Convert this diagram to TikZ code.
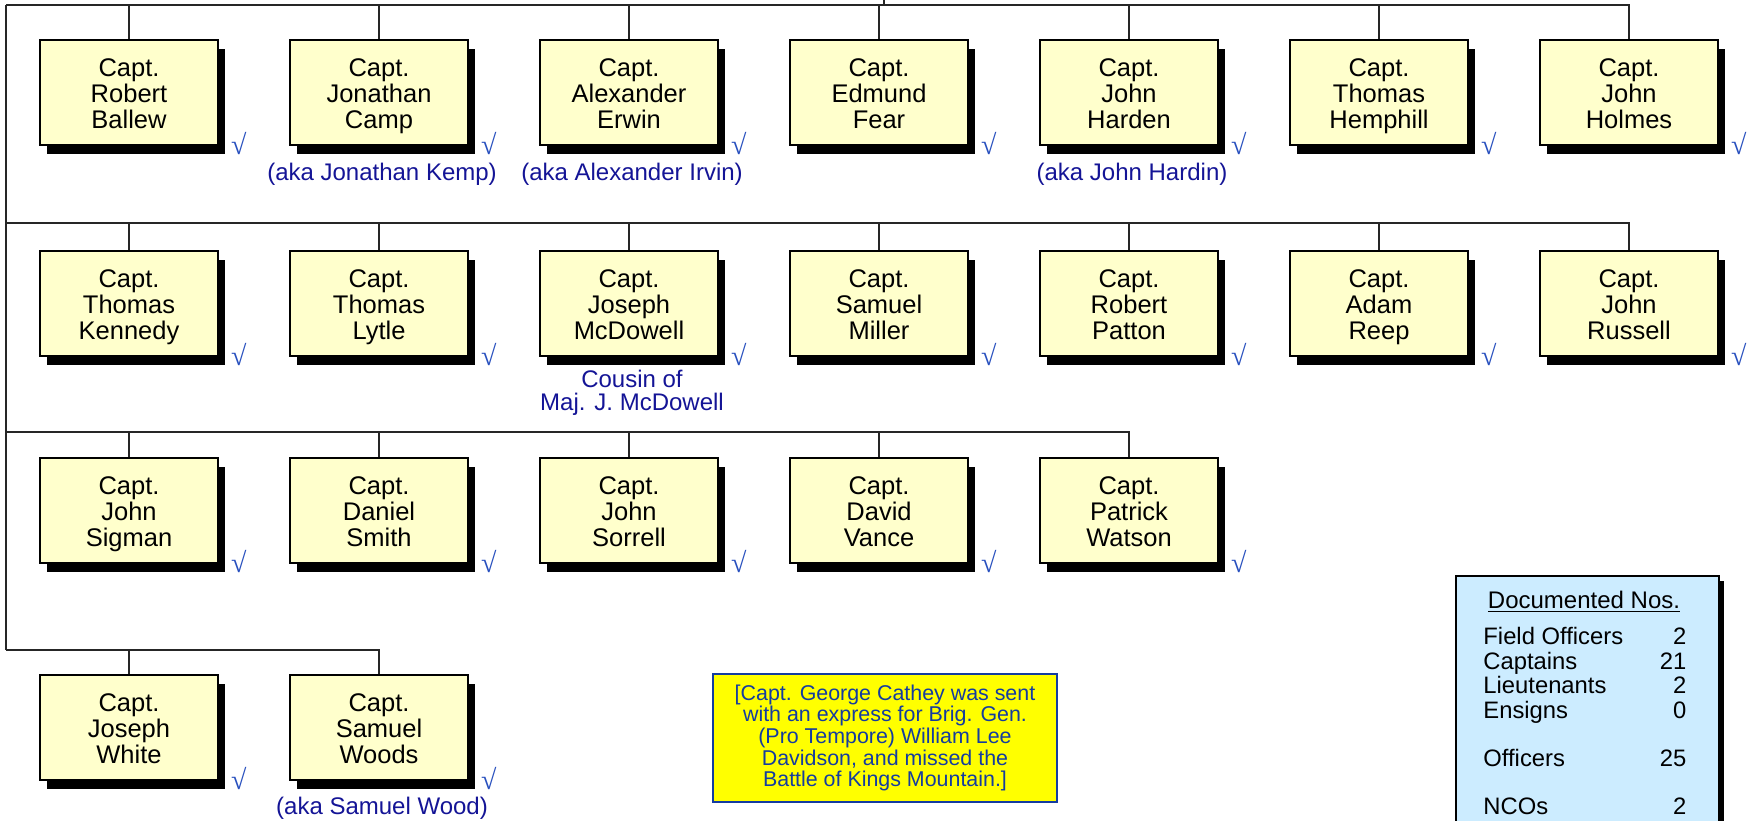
\documentclass[tikz,border=0pt]{standalone}
\usepackage{fontspec}
\setmainfont{Liberation Sans}
\newfontfamily\ckfont{Liberation Serif}
\usetikzlibrary{shadows}
\definecolor{captfill}{RGB}{255,255,204}
\definecolor{checkblue}{RGB}{40,80,190}
\definecolor{akablue}{RGB}{20,20,150}
\definecolor{noteblue}{RGB}{20,60,160}
\definecolor{notefill}{RGB}{255,255,0}
\definecolor{docfill}{RGB}{204,236,255}
% captain's name in a box, three lines on fixed baselines
\newcommand\captname[2]{\rule{0pt}{12.5pt}Capt.\\#1\\#2\rule[-3pt]{0pt}{0pt}}
\tikzset{
  capt/.style={draw=black, line width=0.9pt, fill=captfill, minimum width=89pt, minimum height=52.5pt,
    inner sep=0pt, align=center, font=\fontsize{12.75}{13}\selectfont,
    drop shadow={shadow xshift=3.5pt, shadow yshift=-4.5pt, fill=black, opacity=1}},
  chkmark/.style={text=checkblue, inner sep=0pt, font=\ckfont\fontsize{14}{14}\selectfont},
  aka/.style={text=akablue, inner sep=0pt, align=center, font=\fontsize{12}{11.5}\selectfont},
  conn/.style={draw=black!85, line width=0.8pt},
}
\begin{document}
\begin{tikzpicture}[x=0.5pt, y=-0.5pt]
			\path[use as bounding box, clip] (0,0) rectangle (1754,820);
			% first row
			\node (ballew) [capt] at (129,92.5) {\captname{Robert}{Ballew}};
			\node (camp) [capt] at (379,92.5) {\captname{Jonathan}{Camp}};
			\node (erwin) [capt] at (629,92.5) {\captname{Alexander}{Erwin}};
			\node (fear) [capt] at (879,92.5) {\captname{Edmund}{Fear}};
			\node (harden) [capt] at (1129,92.5) {\captname{John}{Harden}};
			\node (hemphill) [capt] at (1379,92.5) {\captname{Thomas}{Hemphill}};
			\node (holmes) [capt] at (1629,92.5) {\captname{John}{Holmes}};
			% second row
			\node (kennedy) [capt] at (129,303.5) {\captname{Thomas}{Kennedy}};
			\node (lytle) [capt] at (379,303.5) {\captname{Thomas}{Lytle}};
			\node (mcdowell) [capt] at (629,303.5) {\captname{Joseph}{McDowell}};
			\node (miller) [capt] at (879,303.5) {\captname{Samuel}{Miller}};
			\node (patton) [capt] at (1129,303.5) {\captname{Robert}{Patton}};
			\node (reep) [capt] at (1379,303.5) {\captname{Adam}{Reep}};
			\node (russell) [capt] at (1629,303.5) {\captname{John}{Russell}};
			% third row
			\node (sigman) [capt] at (129,510.5) {\captname{John}{Sigman}};
			\node (smith) [capt] at (379,510.5) {\captname{Daniel}{Smith}};
			\node (sorrell) [capt] at (629,510.5) {\captname{John}{Sorrell}};
			\node (vance) [capt] at (879,510.5) {\captname{David}{Vance}};
			\node (watson) [capt] at (1129,510.5) {\captname{Patrick}{Watson}};
			% fourth row
			\node (white) [capt] at (129,727.5) {\captname{Joseph}{White}};
			\node (woods) [capt] at (379,727.5) {\captname{Samuel}{Woods}};

			% check marks
			\node (ballewok) [chkmark] at ([shift={(20,-2.5)}]ballew.south east) {√};
			\node (campok) [chkmark] at ([shift={(20,-2.5)}]camp.south east) {√};
			\node (erwinok) [chkmark] at ([shift={(20,-2.5)}]erwin.south east) {√};
			\node (fearok) [chkmark] at ([shift={(20,-2.5)}]fear.south east) {√};
			\node (hardenok) [chkmark] at ([shift={(20,-2.5)}]harden.south east) {√};
			\node (hemphillok) [chkmark] at ([shift={(20,-2.5)}]hemphill.south east) {√};
			\node (holmesok) [chkmark] at ([shift={(20,-2.5)}]holmes.south east) {√};
			\node (kennedyok) [chkmark] at ([shift={(20,-2.5)}]kennedy.south east) {√};
			\node (lytleok) [chkmark] at ([shift={(20,-2.5)}]lytle.south east) {√};
			\node (mcdowellok) [chkmark] at ([shift={(20,-2.5)}]mcdowell.south east) {√};
			\node (millerok) [chkmark] at ([shift={(20,-2.5)}]miller.south east) {√};
			\node (pattonok) [chkmark] at ([shift={(20,-2.5)}]patton.south east) {√};
			\node (reepok) [chkmark] at ([shift={(20,-2.5)}]reep.south east) {√};
			\node (russellok) [chkmark] at ([shift={(20,-2.5)}]russell.south east) {√};
			\node (sigmanok) [chkmark] at ([shift={(20,-2.5)}]sigman.south east) {√};
			\node (smithok) [chkmark] at ([shift={(20,-2.5)}]smith.south east) {√};
			\node (sorrellok) [chkmark] at ([shift={(20,-2.5)}]sorrell.south east) {√};
			\node (vanceok) [chkmark] at ([shift={(20,-2.5)}]vance.south east) {√};
			\node (watsonok) [chkmark] at ([shift={(20,-2.5)}]watson.south east) {√};
			\node (whiteok) [chkmark] at ([shift={(20,-2.5)}]white.south east) {√};
			\node (woodsok) [chkmark] at ([shift={(20,-2.5)}]woods.south east) {√};

			% other spellings
			\node (campaka) [aka] at ([shift={(3,28)}]camp.south) {(aka Jonathan Kemp)};
			\node (erwinaka) [aka] at ([shift={(3,28)}]erwin.south) {(aka Alexander Irvin)};
			\node (hardenaka) [aka] at ([shift={(3,28)}]harden.south) {(aka John Hardin)};
			\node (mcdowellaka) [aka] at ([shift={(3,35.5)}]mcdowell.south) {Cousin of\\Maj. J. McDowell};
			\node (woodsaka) [aka] at ([shift={(3,27)}]woods.south) {(aka Samuel Wood)};

			% connectors
			\coordinate (root) at (884,0);
			\coordinate (row1) at (6,5);
			\coordinate (row2) at (6,223);
			\coordinate (row3) at (6,432);
			\coordinate (row4) at (6,650);
			\draw [conn] (root) -- (root |- row1);
			\draw [conn] (row1) -- (row4);
			\draw [conn] (row1) -| (holmes.north);
			\draw [conn] (row2) -| (russell.north);
			\draw [conn] (row3) -| (watson.north);
			\draw [conn] (row4) -| (woods.north);
			\draw [conn] (ballew.north) -- (ballew.north |- row1) (camp.north) -- (camp.north |- row1)
				(erwin.north) -- (erwin.north |- row1) (fear.north) -- (fear.north |- row1)
				(harden.north) -- (harden.north |- row1) (hemphill.north) -- (hemphill.north |- row1);
			\draw [conn] (kennedy.north) -- (kennedy.north |- row2) (lytle.north) -- (lytle.north |- row2)
				(mcdowell.north) -- (mcdowell.north |- row2) (miller.north) -- (miller.north |- row2)
				(patton.north) -- (patton.north |- row2) (reep.north) -- (reep.north |- row2);
			\draw [conn] (sigman.north) -- (sigman.north |- row3) (smith.north) -- (smith.north |- row3)
				(sorrell.north) -- (sorrell.north |- row3) (vance.north) -- (vance.north |- row3);
			\draw [conn] (white.north) -- (white.north |- row4);

			% note on Cathey
			\node (cathey) [draw=noteblue, line width=1pt, fill=notefill, text=noteblue, minimum width=172pt,
				minimum height=64pt, inner sep=0pt, align=center, font=\fontsize{10.7}{10.85}\selectfont]
				at (885,738) {[Capt. George Cathey was sent\\with an express for Brig. Gen.\\(Pro Tempore) William Lee\\Davidson, and missed the\\Battle of Kings Mountain.]};

			% documented numbers
			\node (docnos) [draw=black, line width=0.9pt, fill=docfill, minimum width=131.5pt, minimum height=135pt,
				inner sep=0pt, anchor=north west,
				drop shadow={shadow xshift=2.5pt, shadow yshift=-2.5pt, fill=black, opacity=1}] at (1455,575) {};
			\node (doctitle) [anchor=base, font=\fontsize{12}{12}\selectfont] at (1584,608) {\underline{Documented Nos.}};
			\node (doclist) [anchor=north west, inner sep=0pt, font=\fontsize{11.9}{12}\selectfont] at (1483,627.2)
				{\begin{tabular*}{101.5pt}{@{}l@{\extracolsep{\fill}}r@{}}
				Field Officers & 2\\ Captains & 21\\ Lieutenants & 2\\ Ensigns & 0\\ & \\
				Officers & 25\\ & \\ NCOs & 2
				\end{tabular*}};
		\end{tikzpicture}
\end{document}
